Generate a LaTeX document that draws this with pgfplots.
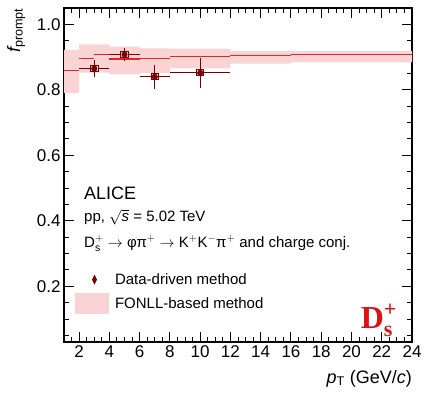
\RequirePackage{fix-cm}
\documentclass[border=0pt]{standalone}
\usepackage{fontspec}
\setmainfont{Liberation Sans}
\newfontfamily\serifb{Liberation Serif}
\usepackage{pgfplots}
\pgfplotsset{compat=1.18}
\usepackage{pgfplotstable}
\usepgfplotslibrary{fillbetween}
\usetikzlibrary{shapes.geometric}

\definecolor{darkred}{RGB}{122,0,0}
\definecolor{fonllc}{RGB}{222,40,40}
\definecolor{bandc}{RGB}{250,212,212}
\definecolor{dsred}{RGB}{214,20,20}

\pgfplotstableread{
x c xe
1.5 0.859 0.5
2.5 0.896 0.5
3.5 0.908 0.5
4.5 0.894 0.5
5.5 0.894 0.5
7 0.896 1
10 0.901 2
14 0.906 2
20 0.908 4
}\fonll

\pgfplotstableread{
x lo hi
1 0.791 0.922
2 0.853 0.939
4 0.847 0.932
6 0.852 0.927
8 0.866 0.926
12 0.880 0.918
16 0.885 0.918
24 0.885 0.918
}\band

\pgfplotstableread{
x y xe ye
3 0.865 1 0.027
5 0.908 1 0.020
7 0.840 1 0.037
10 0.852 2 0.046
}\data

\begin{document}
\begin{tikzpicture}
\begin{axis}[
  width=348pt, height=334pt, scale only axis,
  xmin=1, xmax=24, ymin=0.03, ymax=1.05,
  xtick={2,4,6,8,10,12,14,16,18,20,22,24},
  minor xtick={1,1.5,...,24},
  ytick={0.2,0.4,0.6,0.8,1.0},
  minor ytick={0.05,0.1,0.15,0.25,0.3,0.35,0.45,0.5,0.55,0.65,0.7,0.75,0.85,0.9,0.95},
  tick align=inside,
  major tick length=10pt, minor tick length=5pt,
  axis line style={line width=1.2pt},
  tick style={line width=1pt, black},
  ticklabel style={font=\fontsize{17}{17}\selectfont},
  /pgf/number format/assume math mode=true,
  yticklabel style={/pgf/number format/.cd, fixed, fixed zerofill, precision=1},
  xticklabel style={/pgf/number format/.cd, fixed, precision=0},
  legend style={draw=none, fill=none, at={(axis cs:1.727,0.116)}, anchor=south west,
    inner sep=0pt, outer sep=0pt, row sep=7pt, column sep=6pt,
    font=\fontsize{15}{15}\selectfont, nodes={inner sep=0pt}},
  legend cell align=left,
]
\addplot[name path=bu, const plot, draw=none, forget plot] table[x=x,y=hi]{\band};
\addplot[name path=bl, const plot, draw=none, forget plot] table[x=x,y=lo]{\band};
\addplot[fill=bandc, draw=none, forget plot] fill between[of=bu and bl];

\addplot[only marks, mark=*, mark options={opacity=0}, forget plot,
  error bars/.cd, x dir=both, x explicit, error mark=none,
  error bar style={fonllc, line width=1.2pt, opacity=1}]
  table[x=x, y=c, x error=xe]{\fonll};

\addplot[only marks, mark=square*, mark size=2.9pt, forget plot,
  mark options={draw=darkred, fill=bandc, line width=1pt, xscale=1.3}]
  table[x=x,y=y]{\data};
\addplot[darkred, only marks, mark=*, mark size=2.6pt, forget plot,
  error bars/.cd, x dir=both, y dir=both, x explicit, y explicit, error mark=none,
  error bar style={line width=1.2pt, darkred}]
  table[x=x,y=y,x error=xe,y error=ye]{\data};
\addplot[only marks, mark=*, mark size=2.6pt, darkred, forget plot] table[x=x,y=y]{\data};

\addlegendimage{legend image code/.code={\path[draw=none,fill=none] (0pt,-5pt) rectangle (34pt,5pt); \node[diamond, draw=none, fill=darkred, inner sep=0pt, minimum width=5pt, minimum height=10pt] at (17pt,0pt) {};}}
\addlegendentry{Data-driven method}
\addlegendimage{legend image code/.code={\fill[bandc, draw=none] (0pt,-10.5pt) rectangle (34pt,10.5pt);}}
\addlegendentry{FONLL-based method}

\coordinate (sw) at (rel axis cs:0,0);
\coordinate (ne) at (rel axis cs:1,1);
\coordinate (alice) at (axis cs:2.10,0.464);
\coordinate (pp) at (axis cs:2.10,0.397);
\coordinate (dec) at (axis cs:2.10,0.319);
\coordinate (dsl) at (axis cs:20.6,0.072);
\end{axis}
\node[anchor=base west, font=\fontsize{18}{18}\selectfont] at (alice) {ALICE};
\node[anchor=base west, font=\fontsize{15}{15}\selectfont] at (pp) {pp, $\sqrt{\mathit{s}}$ = 5.02 TeV};
\node[anchor=base west, font=\fontsize{15}{15}\selectfont] at (dec)
  {D$_{\mathrm{s}}^{+}$ $\rightarrow$ φπ$^{+}$ $\rightarrow$ K$^{+}$K$^{-}$π$^{+}$ and charge conj.};
\node[anchor=base west, text=dsred, inner sep=0pt, font=\serifb\bfseries\fontsize{32}{32}\selectfont] at (dsl)
  {D$^{\mbox{\fontsize{22}{22}\selectfont\serifb +}}_{\mbox{\fontsize{22}{22}\selectfont\serifb\bfseries s}}$};
\node[rotate=90, anchor=base east, inner sep=0pt, font=\fontsize{18}{18}\selectfont] at ([xshift=-44pt]sw |- ne) {$\mathit{f}_{\mathrm{prompt}}$};
\node[anchor=base east, inner sep=0pt, font=\fontsize{18}{18}\selectfont] at ([yshift=-41pt]sw -| ne) {$\mathit{p}_{\mathrm{T}}$ (GeV/$\mathit{c}$)};
\pgfresetboundingbox
\path ([shift={(-64pt,-50pt)}]sw) rectangle ([shift={(12pt,8pt)}]ne);
\end{tikzpicture}
\end{document}
